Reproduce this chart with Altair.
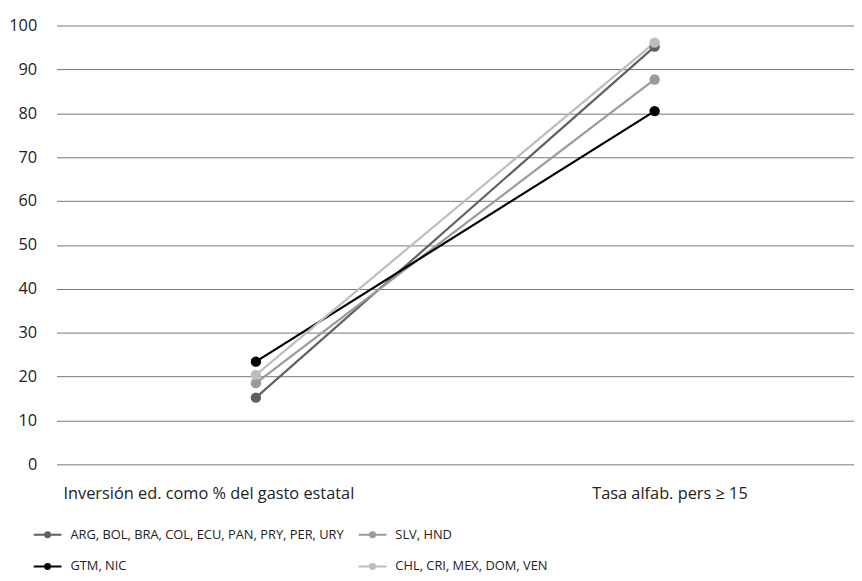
import altair as alt
import pandas as pd

categories = ["Inversión ed. como % del gasto estatal", "Tasa alfab. pers ≥ 15"]
groups = [
    "ARG, BOL, BRA, COL, ECU, PAN, PRY, PER, URY",
    "SLV, HND",
    "GTM, NIC",
    "CHL, CRI, MEX, DOM, VEN",
]
values = {
    "ARG, BOL, BRA, COL, ECU, PAN, PRY, PER, URY": [15.2, 95.2],
    "SLV, HND": [18.5, 87.7],
    "GTM, NIC": [23.4, 80.5],
    "CHL, CRI, MEX, DOM, VEN": [20.4, 96.1],
}
colors = ["#606060", "#9a9a9a", "#000000", "#bdbdbd"]

rows = []
for g in groups:
    for c, v in zip(categories, values[g]):
        rows.append({"grupo": g, "cat": c, "valor": v})
df = pd.DataFrame(rows)

FONT = "Open Sans"
LEG_FONT = "Open Sans"

sym_path = "M-1,0L1,0M-0.18,0A0.18,0.18 0 1,1 0.18,0A0.18,0.18 0 1,1 -0.18,0Z"

color = alt.Color(
    "grupo:N",
    scale=alt.Scale(domain=groups, range=colors),
    legend=alt.Legend(
        title=None,
        orient="none",
        legendX=-24,
        legendY=499,
        direction="horizontal",
        columns=2,
        columnPadding=10,
        rowPadding=10,
        symbolType=sym_path,
        symbolSize=784,
        symbolStrokeWidth=2,
        labelFont=LEG_FONT,
        labelFontSize=13,
        labelColor="#222222",
        labelOffset=8,
        labelLimit=400,
        symbolOffset=0,
    ),
)

base = alt.Chart(df).encode(
    x=alt.X(
        "cat:N",
        sort=categories,
        scale=alt.Scale(paddingOuter=0.5),
        axis=alt.Axis(
            title=None,
            labelAngle=0,
            domain=False,
            ticks=False,
            labelPadding=21,
            labelFont=FONT,
            labelFontSize=16.5,
            labelColor="#222222",
            labelLimit=500,
            labelOffset={"condition": {"test": "datum.index < 0.5", "value": -48}, "value": 15},
        ),
    ),
    y=alt.Y(
        "valor:Q",
        scale=alt.Scale(domain=[0, 100], nice=False),
        axis=alt.Axis(
            title=None,
            values=list(range(0, 101, 10)),
            domain=False,
            ticks=False,
            labelPadding=20,
            labelFont=FONT,
            labelFontSize=16.5,
            labelColor="#222222",
            gridColor="#777777",
            gridWidth=1,
        ),
    ),
    color=color,
)

lines = base.mark_line(strokeWidth=2.2)
points = base.mark_point(filled=True, size=110, opacity=1)

chart = (
    alt.layer(lines, points)
    .properties(
        width=805,
        height=443,
        padding={"left": 49, "top": 15, "right": 0, "bottom": 107},
        autosize=alt.AutoSizeParams(type="none"),
    )
    .configure_view(stroke=None)
    .configure_axis(grid=True)
    .configure_axisX(grid=False)
)

chart.save("out.html", embed_options={"renderer": "svg", "actions": False})
